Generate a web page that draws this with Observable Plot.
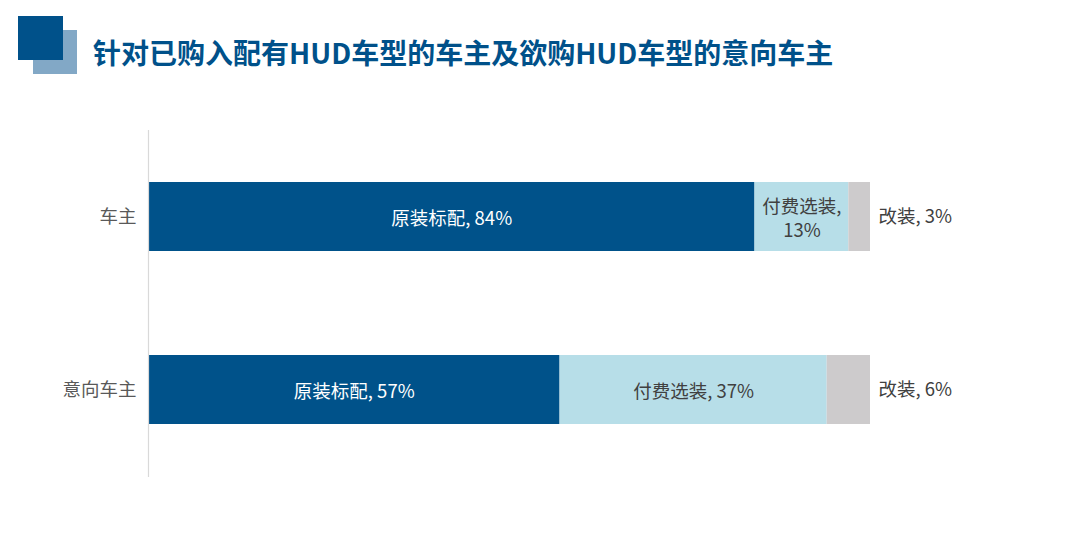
<!DOCTYPE html>
<html><head><meta charset="utf-8">
<script src="https://cdn.jsdelivr.net/npm/d3@7"></script>
<script src="https://cdn.jsdelivr.net/npm/@observablehq/plot@0.6"></script>
<style>
body{margin:0;background:#fff;font-family:"Noto Sans CJK SC","Noto Sans",sans-serif;}
#wrap{width:1080px;height:549px;position:relative;overflow:hidden;}
#head{position:relative;height:100px;}
.sq1{position:absolute;left:33px;top:30px;width:44px;height:44px;background:#82A8C6;}
.sq2{position:absolute;left:18px;top:16px;width:45px;height:44px;background:#00518A;}
#title{position:absolute;left:93px;top:32px;font-size:28px;font-weight:700;color:#00518A;line-height:40px;white-space:nowrap;}
</style></head>
<body><div id="wrap"><div id="head"><div class="sq1"></div><div class="sq2"></div><div id="title">针对已购入配有HUD车型的车主及欲购HUD车型的意向车主</div></div><div id="chart"></div></div>
<script>
const categories = ["车主", "意向车主"];
const series = ["原装标配", "付费选装", "改装"];
const oem = [84, 57];
const paid = [13, 37];
const mod = [3, 6];
const colors = ["#00528A", "#B7DEE8", "#CDCBCC"];

const seriesValues = [oem, paid, mod];
const rows = [];
categories.forEach((c, i) => {
  let acc = 0;
  series.forEach((s, j) => {
    const v = seriesValues[j][i];
    rows.push({cat: c, series: s, value: v, start: acc, end: acc + v});
    acc += v;
  });
});
const labelText = d => {
  if (d.series === "付费选装" && d.value < 20) return `${d.series},\n${d.value}%`;
  return `${d.series}, ${d.value}%`;
};
const inside = rows.filter(d => d.series !== "改装");
const outside = rows.filter(d => d.series === "改装");

const chart = Plot.plot({
  width: 1080,
  height: 449,
  marginLeft: 148,
  marginRight: 210,
  marginTop: 30,
  marginBottom: 72,
  style: {fontFamily: '"Noto Sans CJK SC", "Noto Sans", sans-serif', fontSize: "18.5px", background: "#fff"},
  x: {domain: [0, 100], axis: null},
  y: {domain: categories, paddingInner: 0.6, paddingOuter: 0.3, label: null, axis: null},
  color: {domain: series, range: colors},
  marks: [
    Plot.barX(rows, {x1: "start", x2: "end", y: "cat", fill: "series"}),
    Plot.ruleX([0], {stroke: "#D9D9D9", strokeWidth: 1.2}),
    Plot.axisY({tickSize: 0, tickPadding: 12, fontSize: 18.5, fill: "#595959", label: null}),
    Plot.text(inside, {x: d => (d.start + d.end) / 2, y: "cat", text: labelText,
      fill: d => d.series === "原装标配" ? "#FFFFFF" : "#404040", fontSize: 18.5, lineHeight: 1.35}),
    Plot.text(outside, {x: "end", y: "cat", text: labelText, textAnchor: "start", dx: 8,
      fill: "#404040", fontSize: 18.5})
  ]
});
document.getElementById("chart").appendChild(chart);
</script></body></html>
